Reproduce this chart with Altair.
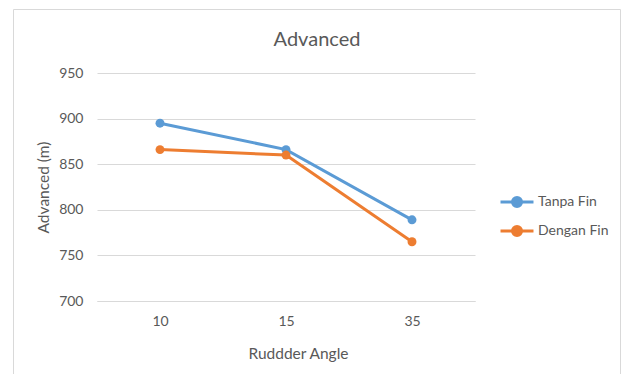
import altair as alt
import pandas as pd

# Rudder angle categories and advance distance (m) for each configuration
angles = ["10", "15", "35"]
tanpa_fin = [895, 866, 789]
dengan_fin = [866, 860, 765]
series = ["Tanpa Fin", "Dengan Fin"]
colors = ["#5B9BD5", "#ED7D31"]

rows = []
for name, vals in zip(series, [tanpa_fin, dengan_fin]):
    for a, v in zip(angles, vals):
        rows.append({"angle": a, "advanced": v, "series": name})
df = pd.DataFrame(rows)

FONT = "Lato"
GREY = "#595959"

# Legend glyph: short line with a dot in the middle (wide path, small nominal size)
legend_symbol = "M-2,0H2M-0.55,0A0.55,0.55 0 1,0 0.55,0A0.55,0.55 0 1,0 -0.55,0Z"

color = alt.Color(
    "series:N",
    scale=alt.Scale(domain=series, range=colors),
    legend=alt.Legend(
        title=None,
        orient="none",
        legendX=410,
        legendY=119,
        symbolType=legend_symbol,
        symbolSize=272,
        symbolStrokeWidth=3,
        labelFont=FONT,
        labelFontSize=14,
        labelColor=GREY,
        rowPadding=7,
        labelOffset=11,
    ),
)

x = alt.X(
    "angle:O",
    sort=angles,
    scale=alt.Scale(paddingOuter=0.5, paddingInner=1),
    axis=alt.Axis(
        title="Ruddder Angle",
        labelAngle=0,
        labelPadding=13,
        titlePadding=18,
        titleX=201,
        ticks=False,
        domain=True,
        domainColor="#D9D9D9",
    ),
)
y = alt.Y(
    "advanced:Q",
    scale=alt.Scale(domain=[700, 950], nice=False, zero=False),
    axis=alt.Axis(
        title="Advanced (m)",
        values=[700, 750, 800, 850, 900, 950],
        ticks=False,
        domain=False,
        labelPadding=14,
        titlePadding=7,
        gridColor="#D9D9D9",
    ),
)

base = alt.Chart(df)
lines = base.mark_line(strokeWidth=3).encode(x=x, y=y, color=color)
points = base.mark_point(filled=True, size=80, opacity=1).encode(x=x, y=y, color=color)

# Light grey frame around the whole chart area
frame = alt.Chart(pd.DataFrame({"k": [0]})).mark_rect(
    fill=None, stroke="#D9D9D9", strokeWidth=1
).encode(
    x=alt.value(-83.5), x2=alt.value(523.5), y=alt.value(-63.5), y2=alt.value(310)
)

chart = alt.layer(frame, lines, points).properties(
    width=378,
    height=228,
    padding={"left": 97, "top": 73, "right": 147, "bottom": 73},
    autosize=alt.AutoSizeParams(type="none"),
    title=alt.Title(
        "Advanced",
        font=FONT,
        fontSize=20,
        fontWeight="normal",
        color=GREY,
        anchor="middle",
        dx=31,
        offset=-41,
    ),
).configure_axis(
    labelFont=FONT,
    labelFontSize=14,
    labelColor=GREY,
    titleFont=FONT,
    titleFontSize=15.5,
    titleFontWeight="normal",
    titleColor=GREY,
).configure_view(stroke=None)

chart.save("out.html", embed_options={"renderer": "svg", "actions": False})
